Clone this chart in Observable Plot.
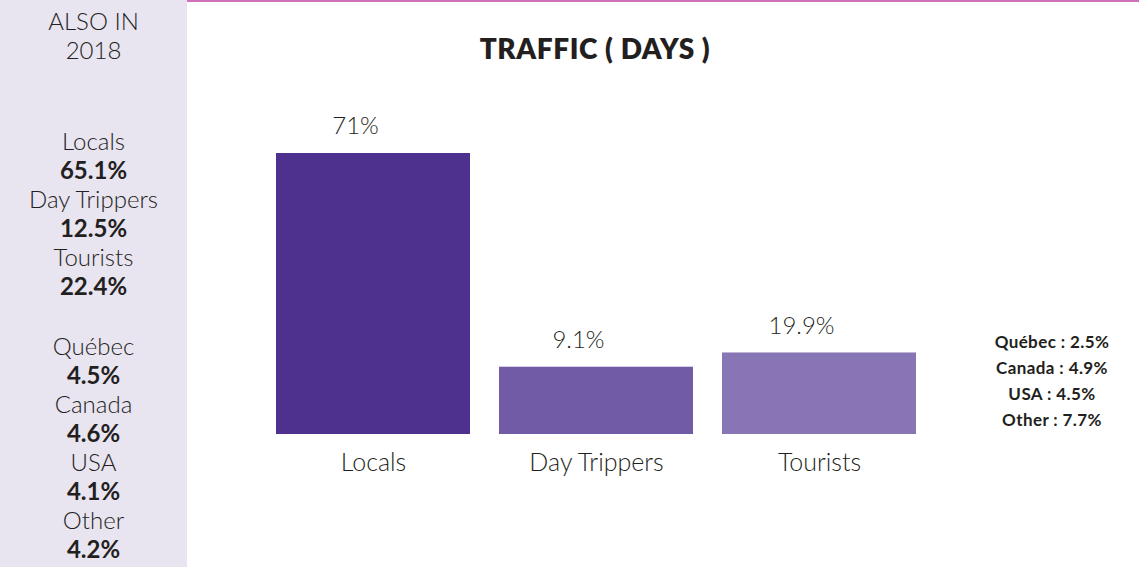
<!DOCTYPE html>
<html>
<head>
<meta charset="utf-8">
<script src="https://cdn.jsdelivr.net/npm/d3@7"></script>
<script src="https://cdn.jsdelivr.net/npm/@observablehq/plot@0.6"></script>
<style>
  html, body { margin: 0; padding: 0; background: #fff; }
  body { width: 1139px; height: 567px; position: relative; overflow: hidden; font-family: Lato, "Open Sans", sans-serif; color: #231f20; }
  #side { position: absolute; left: 0; top: 0; width: 187px; height: 567px; background: #e8e4f0; text-align: center; }
  #side div { font-size: 24px; font-weight: 300; line-height: 29px; }
  #side div.b { font-weight: 700; }
  #main { position: absolute; left: 187px; top: 0; width: 952px; height: 567px; border-top: 2px solid #d070b8; box-sizing: border-box; }
  #title { position: absolute; left: 0; width: 816px; top: 29px; text-align: center; font-size: 28px; font-weight: 800; letter-spacing: 0.6px; }
  #chart { position: absolute; left: 0; top: 85px; }
  #note { position: absolute; left: 780px; width: 170px; top: 327px; text-align: center; font-size: 17px; font-weight: 700; line-height: 26px; letter-spacing: 0.4px; }
</style>
</head>
<body>
<div id="side"></div>
<div id="main">
  <div id="title"></div>
  <div id="chart"></div>
  <div id="note"></div>
</div>
<script>
// ---- data ----
const title = "TRAFFIC ( DAYS )";
const categories = ["Locals", "Day Trippers", "Tourists"];
const shownValues = ["71%", "9.1%", "19.9%"];           // labels printed over the bars
const barLengths = [71, 17.0, 20.6];                     // bar lengths as drawn in the picture
const barColors = ["#4e318f", "#715aa6", "#8875b5"];
const touristOrigins = ["Québec", "Canada", "USA", "Other"];
const touristShares = ["2.5%", "4.9%", "4.5%", "7.7%"];
const sideHeader = ["ALSO IN", "2018"];
const side2018Groups = ["Locals", "Day Trippers", "Tourists"];
const side2018Values = ["65.1%", "12.5%", "22.4%"];
const side2018Origins = ["Québec", "Canada", "USA", "Other"];
const side2018OriginValues = ["4.5%", "4.6%", "4.1%", "4.2%"];

// ---- side panel ----
const side = document.getElementById("side");
function addLine(text, bold, marginTop) {
  const d = document.createElement("div");
  d.textContent = text;
  if (bold) d.className = "b";
  if (marginTop) d.style.marginTop = marginTop + "px";
  side.appendChild(d);
}
addLine(sideHeader[0], false, 6);
addLine(sideHeader[1], false, 0);
side2018Groups.forEach((g, i) => { addLine(g, false, i === 0 ? 62 : 0); addLine(side2018Values[i], true); });
side2018Origins.forEach((g, i) => { addLine(g, false, i === 0 ? 31 : 0); addLine(side2018OriginValues[i], true); });

// ---- title & note ----
document.getElementById("title").textContent = title;
document.getElementById("note").innerHTML = touristOrigins.map((o, i) => `${o} : ${touristShares[i]}`).join("<br>");

// ---- chart ----
const data = categories.map((c, i) => ({ cat: c, len: barLengths[i], label: shownValues[i], color: barColors[i] }));
const chart = Plot.plot({
  width: 952,
  height: 480,
  marginLeft: 58.5,
  marginRight: 193.5,
  marginTop: 66,
  marginBottom: 133,
  style: { fontFamily: "Lato, 'Open Sans', sans-serif", background: "transparent" },
  x: { domain: categories, padding: 0.132, label: null },
  y: { domain: [0, 71], axis: null },
  marks: [
    Plot.barY(data, { x: "cat", y: "len", fill: "color" }),
    Plot.text(data, { x: "cat", y: "len", text: "label", dy: -27, dx: -18, fontSize: 24, fontWeight: 300, fill: "#231f20" }),
    Plot.axisX({ tickSize: 0, tickPadding: 19, fontSize: 25, fill: "#231f20", label: null })
  ]
});
chart.querySelectorAll("[aria-label='x-axis tick label'] text").forEach(t => t.setAttribute("font-weight", "300"));
chart.querySelectorAll("[aria-label='x-axis tick label']").forEach(g => g.setAttribute("font-weight", "300"));
document.getElementById("chart").appendChild(chart);
</script>
</body>
</html>
